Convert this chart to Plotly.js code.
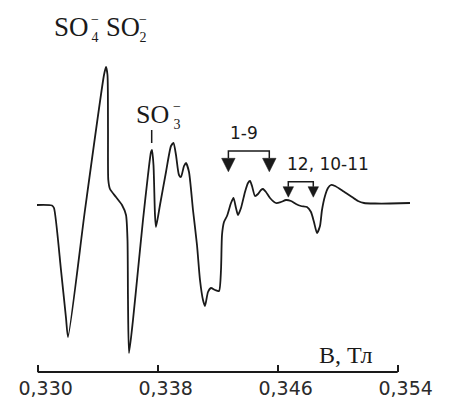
<!DOCTYPE html>
<html>
<head>
<meta charset="utf-8">
<script src="https://cdn.plot.ly/plotly-3.0.1.min.js"></script>
<style>html,body{margin:0;padding:0;background:#fff;}#chart{width:454px;height:401px;}</style>
</head>
<body>
<div id="chart"></div>
<script>
// Magnetic field B, T
const fieldB = [0.329953,0.330953,0.331087,0.331553,0.331887,0.332020,0.333153,0.334420,0.334553,0.334653,0.334687,0.334707,0.334820,0.335220,0.335620,0.335887,0.335987,0.336020,0.336087,0.336353,0.336687,0.337020,0.337353,0.337553,0.337620,0.337720,0.337820,0.337887,0.338153,0.338553,0.338887,0.339053,0.339220,0.339420,0.339553,0.339753,0.339887,0.340087,0.340353,0.340620,0.340820,0.341020,0.341153,0.341353,0.341553,0.341820,0.342087,0.342220,0.342287,0.342420,0.342620,0.342887,0.343053,0.343220,0.343353,0.343553,0.343820,0.344020,0.344153,0.344287,0.344487,0.344687,0.344887,0.345020,0.345220,0.345487,0.345887,0.346220,0.346553,0.346887,0.347220,0.347553,0.347953,0.348220,0.348420,0.348620,0.348820,0.348953,0.349153,0.349353,0.349553,0.349820,0.350153,0.350553,0.350953,0.351353,0.351753,0.352487,0.353487,0.354820];
// EPR signal (first derivative), arbitrary units
const signal = [0,-0.5,-3,-65,-113,-132,-5,130,138,130,75,25,16,8,0,-10,-35,-95,-148,-115,-65,-15,30,53,55,40,-10,-22,0,33,59,62,50,30,28,39,42,33,-5,-40,-75,-95,-101,-87,-83,-85,-86,-65,-30,-17,-11,2,7,-3,-10,-3,13,22,24,19,9,11,15,16,13,7,2,3,5,4,1,-1,-2,-7,-17,-28,-21,-5,9,17,20,19,16,12,8,4,2,1.5,1.5,2];

const tickValues = [0.330, 0.338, 0.346, 0.354];
const tickLabels = ['0,330', '0,338', '0,346', '0,354'];

// bracket arrows: [x left, x right, y top, y arrow start, head width px, head height px]
const brackets = [
  [0.342713, 0.345440, 54, 46.7, 13.5, 13.5],
  [0.346707, 0.348373, 23.3, 18.3, 10.5, 10.5]
];

const serif = 'Liberation Serif, Times New Roman, serif';
const sans = 'DejaVu Sans, Verdana, sans-serif';
const ink = '#1a1a1a';

const shapes = [
  {type:'line', xref:'x', yref:'paper', x0:0.330, x1:0.354, y0:0, y1:0, line:{color:ink, width:2}},
  {type:'line', xref:'x', yref:'y', x0:0.3376, x1:0.3376, y0:62, y1:75, line:{color:ink, width:1.5}}
];
brackets.forEach(b => {
  shapes.push({type:'path', xref:'x', yref:'y',
    path:`M${b[0]},${b[3]} L${b[0]},${b[2]} L${b[1]},${b[2]} L${b[1]},${b[3]}`,
    line:{color:ink, width:1.5}});
  [b[0], b[1]].forEach(xa => {
    const w = b[4]/2, h = b[5];
    shapes.push({type:'path', xref:'x', yref:'y', xsizemode:'pixel', ysizemode:'pixel',
      xanchor:xa, yanchor:b[3],
      path:`M${-w},0 L${w},0 L0,${-h} Z`,
      fillcolor:ink, line:{color:ink, width:0.5}});
  });
});

function ann(text, x, y, size, font, anchor) {
  return {text:text, x:x, y:y, xref:'x', yref:'y', showarrow:false, borderpad:0,
    xanchor:anchor||'center', yanchor:'middle', font:{family:font, size:size, color:ink}};
}
const annotations = [
  ann('SO', 0.331000, 178, 27, serif, 'left'),
  ann('−<br>4', 0.333800, 176.5, 14, serif),
  ann('SO', 0.334487, 178, 26.5, serif, 'left'),
  ann('−<br>2', 0.337050, 176.5, 14, serif),
  ann('SO', 0.336487, 91, 26, serif, 'left'),
  ann('−<br>3', 0.339300, 89.5, 14, serif),
  ann('1-9', 0.343753, 72, 17, sans),
  ann('12, 10-11', 0.349373, 41, 17, sans),
  ann('B, Тл', 0.350487, -150, 24, serif)
];

const trace = {x: fieldB, y: signal, type:'scatter', mode:'lines',
  line:{color:ink, width:1.8, shape:'spline', smoothing:0.6}, hoverinfo:'skip'};

const layout = {
  width:454, height:401,
  margin:{l:30, r:34, t:0, b:29, pad:0},
  paper_bgcolor:'#fff', plot_bgcolor:'#fff',
  showlegend:false,
  xaxis:{range:[0.329487, 0.355487], showline:false, zeroline:false, showgrid:false,
    ticks:'inside', ticklen:7, tickwidth:2, tickcolor:ink,
    tickvals:tickValues, ticktext:tickLabels, ticklabelshift:8, ticklabelstandoff:3,
    tickfont:{family:sans, size:19, color:'#2b2b2b'}},
  yaxis:{range:[-167, 205], visible:false, showgrid:false, zeroline:false},
  shapes:shapes, annotations:annotations
};
Plotly.newPlot('chart', [trace], layout, {displayModeBar:false, staticPlot:true});
</script>
</body>
</html>
